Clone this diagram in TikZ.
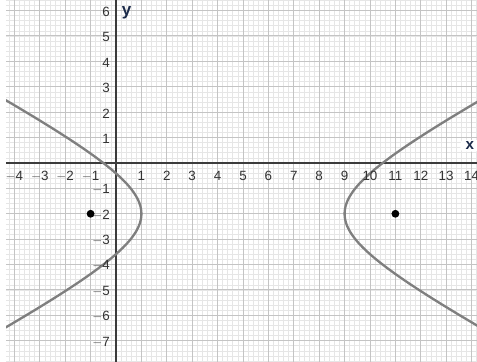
\documentclass[tikz,border=0pt]{standalone}
\usepackage{fontspec}
\setmainfont{Liberation Sans}
\definecolor{minorgrid}{HTML}{E6E6E6}
\definecolor{majorgrid}{HTML}{C4C4C4}
\definecolor{axiscol}{HTML}{3C3C3C}
\definecolor{curvecol}{HTML}{7F7F7F}
\definecolor{labelcol}{HTML}{333333}
\definecolor{axisname}{HTML}{1C2B4A}
\begin{document}
\begin{tikzpicture}[declare function={a=4;b=2.12;},x=1cm,y=1cm,
	ticklabel/.style={font=\fontsize{15}{17}\selectfont,text=labelcol,inner sep=0pt}]
	\useasboundingbox[fill=white] (-4.567,-7.835) rectangle (14.213,6.417);
	\begin{scope}
	\clip (-4.33,-7.835) rectangle (14.213,6.417);
	\draw[step=0.2,minorgrid,line width=0.8pt] (-5,-8) grid (15,7);
	\draw[step=1,majorgrid,line width=1.1pt] (-5,-8) grid (15,7);
	\path (0,0) coordinate (O)
	(-5,0) coordinate (XL)
	(15,0) coordinate (XR)
	(0,-8) coordinate (YB)
	(0,7) coordinate (YT)
	(-1,-2) coordinate (F)
	(11,-2) coordinate (G);
	\draw[axiscol,line width=1.9pt] (XL)--(XR) (YB)--(YT);
	\foreach \s in {-1,1}{
	\draw[curvecol,line width=2.6pt,domain=-1.8:1.8,samples=120,variable=\t] plot ({5+\s*a*cosh(\t)},{-2+b*sinh(\t)});
	}
	\end{scope}
	\foreach \k in {-4,...,-1,1,2,...,14}{
	\node[ticklabel] (x\k) at (\k,-0.52) {\ifnum\k<0 $-$\the\numexpr-\k\relax\else\k\fi};
	}
	\foreach \k in {-7,...,-1,1,2,...,6}{
	\node[ticklabel,anchor=east] (y\k) at (-0.24,\k-0.05) {\ifnum\k<0 $-$\the\numexpr-\k\relax\else\k\fi};
	}
	\node[font=\fontsize{19}{21}\selectfont\bfseries,text=axisname,inner sep=0pt] (ylab) at (0.42,5.93) {y};
	\node[font=\fontsize{17}{19}\selectfont\bfseries,text=axisname,fill=white,rounded corners=4pt,
	anchor=east,inner xsep=6pt,inner ysep=2pt] (xlab) at (14.32,0.68) {x};
	\foreach \t in {F,G}{
	\fill[black] (\t) circle (0.155);
	}
\end{tikzpicture}
\end{document}
